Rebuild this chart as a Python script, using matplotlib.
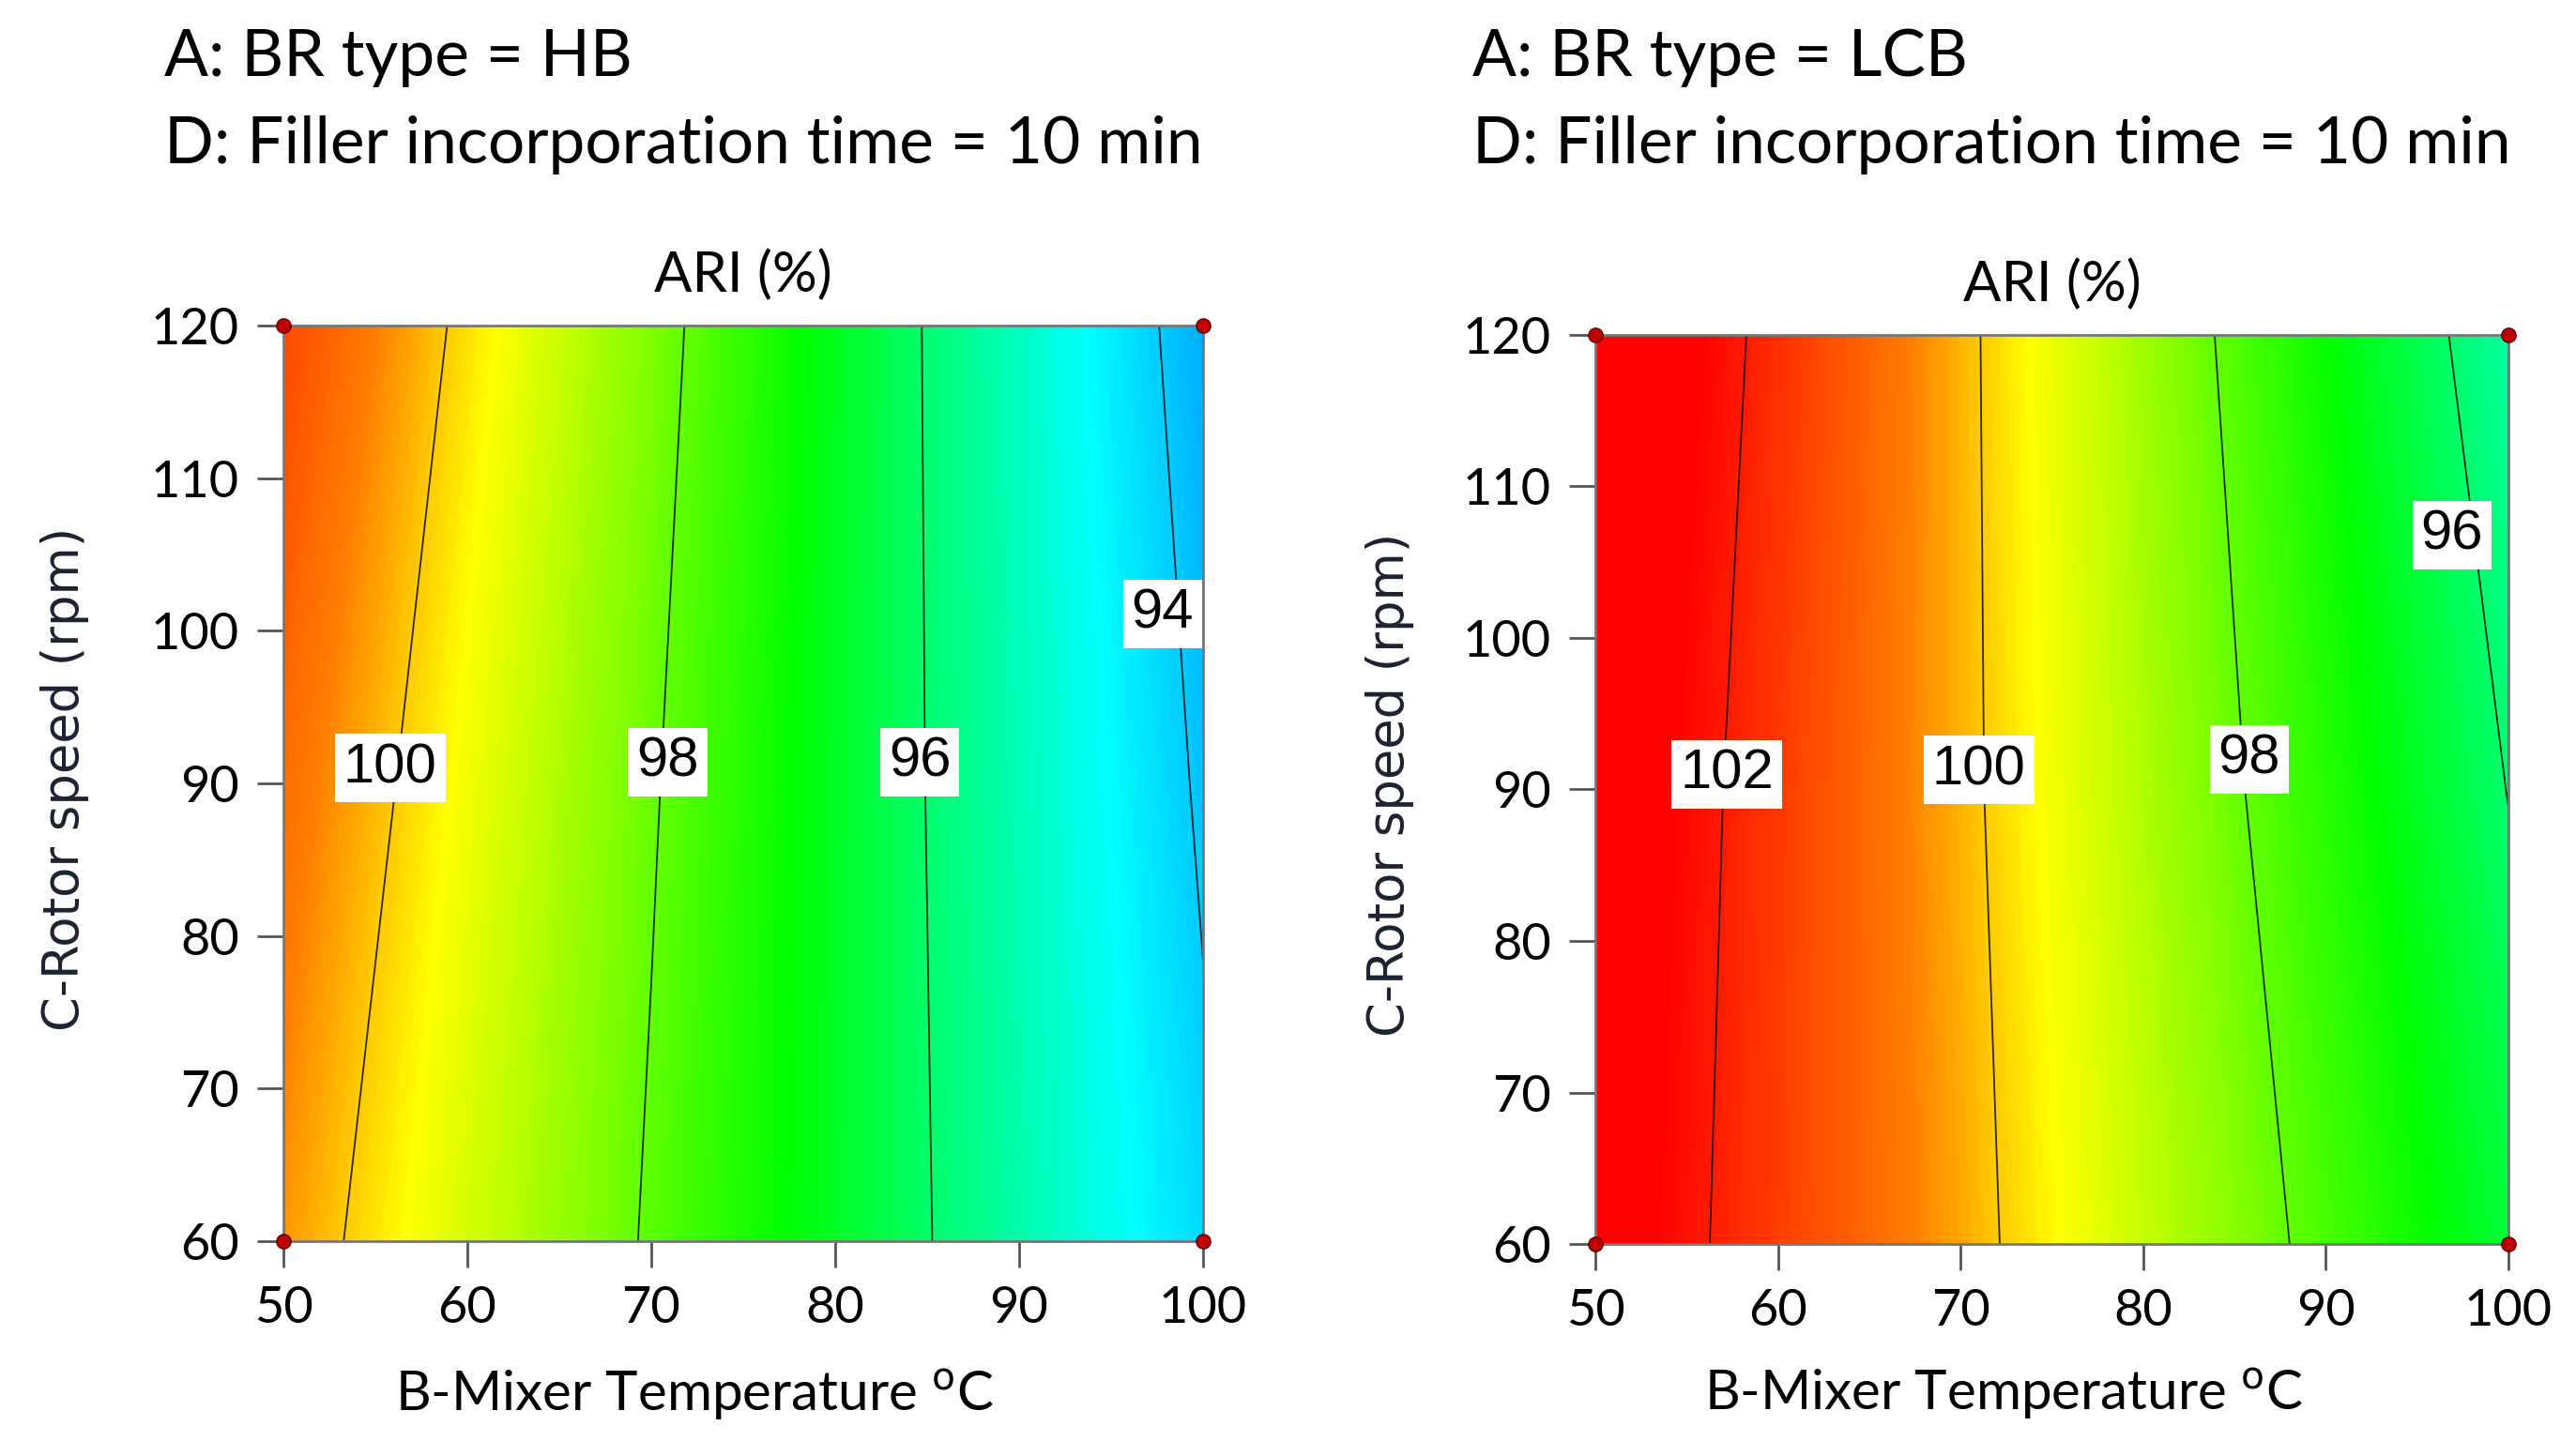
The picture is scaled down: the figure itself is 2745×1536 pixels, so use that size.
import numpy as np
import matplotlib.pyplot as plt
from matplotlib.colors import LinearSegmentedColormap, Normalize

# grid (B: mixer temperature, C: rotor speed)
temp = [50, 60, 70, 80, 90, 100]
rpm = [60, 90, 120]
ari_hb = [[100.41, 99.16, 97.91, 96.66, 95.41, 94.16],
          [100.85, 99.46, 98.07, 96.68, 95.29, 93.90],
          [101.38, 99.83, 98.28, 96.73, 95.18, 93.63]]
ari_lcb = [[102.79, 101.53, 100.27, 99.01, 97.75, 96.49],
           [102.98, 101.58, 100.18, 98.78, 97.38, 95.98],
           [103.29, 101.73, 100.17, 98.61, 97.05, 95.49]]
levels_hb = [94, 96, 98, 100]
levels_lcb = [96, 98, 100, 102]
labpos_hb = [(55.8, 91.0), (70.9, 91.4), (84.6, 91.4), (97.8, 101.1)]
labpos_lcb = [(57.2, 91.0), (71.0, 91.3), (85.8, 92.0), (96.9, 106.8)]
headers = [['A: BR type = HB', 'D: Filler incorporation time = 10 min'],
           ['A: BR type = LCB', 'D: Filler incorporation time = 10 min']]

# design-expert like colour ramp, blue (low) -> red (high)
vmin, vmax = 93.0, 103.5
nodes = [(93.0, (0, 120/255, 1)), (94.6, (0, 1, 1)), (97.0, (0, 1, 0)),
         (99.6, (1, 1, 0)), (100.6, (1, 0.5, 0)), (102.4, (1, 0, 0)), (103.5, (1, 0, 0))]
cmap = LinearSegmentedColormap.from_list(
    'de', [((v - vmin)/(vmax - vmin), c) for v, c in nodes])
norm = Normalize(vmin, vmax)

fig = plt.figure(figsize=(27.45, 15.36), dpi=100)
rects = [[0.1100, 0.1387, 0.3570, 0.6354], [0.6193, 0.1367, 0.3545, 0.6309]]
hx = [0.0638, 0.5716]
xlab_y = [-0.167, -0.164]
ylab_x = [-0.2375, -0.225]
font = 'Lato'

for i, (Z, lev, pos) in enumerate([(ari_hb, levels_hb, labpos_hb),
                                   (ari_lcb, levels_lcb, labpos_lcb)]):
    ax = fig.add_axes(rects[i])
    Z = np.array(Z)
    ax.contourf(temp, rpm, Z, levels=np.linspace(vmin, vmax, 400), cmap=cmap, norm=norm)
    cs = ax.contour(temp, rpm, Z, levels=lev, colors='black', linewidths=1.3, alpha=0.8)
    ax.clabel(cs, lev, manual=pos, inline=False, fmt='%d', fontsize=43)
    for t, p in zip(cs.labelTexts, pos):
        t.set_rotation(0)
        t.set_position(p)
        t.set_color('black')
        t.set_alpha(1)
        t.set_fontfamily('Liberation Sans')
        t.set_bbox(dict(boxstyle='square,pad=0.15', facecolor='white', edgecolor='none'))
    ax.plot([50, 100, 50, 100], [60, 60, 120, 120], 'o', color='#c00000', mec='#5a0000',
            ms=11, mew=1, clip_on=False, zorder=5)
    ax.set_xlim(50, 100)
    ax.set_ylim(60, 120)
    ax.set_xticks(range(50, 101, 10))
    ax.set_yticks(range(60, 121, 10))
    ax.tick_params(direction='out', length=20, width=2, color='#555555', pad=14,
                   labelsize=39)
    for lab in ax.get_xticklabels() + ax.get_yticklabels():
        lab.set_fontfamily(font)
    for s in ax.spines.values():
        s.set_color('#777777')
        s.set_linewidth(2)
    ax.set_title('ARI (%)', fontsize=43, family=font, pad=26)
    ax.set_xlabel('B-Mixer Temperature $^{\\rm o}$C', fontsize=42, family=font)
    ax.xaxis.set_label_coords(0.447, xlab_y[i])
    ax.xaxis.label.set_va('center')
    ax.set_ylabel('C-Rotor speed (rpm)', fontsize=38, family='DejaVu Sans',
                  color='#1c2230')
    ax.yaxis.set_label_coords(ylab_x[i], 0.505)
    ax.yaxis.label.set_va('center')
    fig.text(hx[i], 1 - 81/1536, headers[i][0], fontsize=50, family=font, va='baseline')
    fig.text(hx[i], 1 - 174/1536, headers[i][1], fontsize=50, family=font, va='baseline')

fig.savefig('out.png', dpi=100)
